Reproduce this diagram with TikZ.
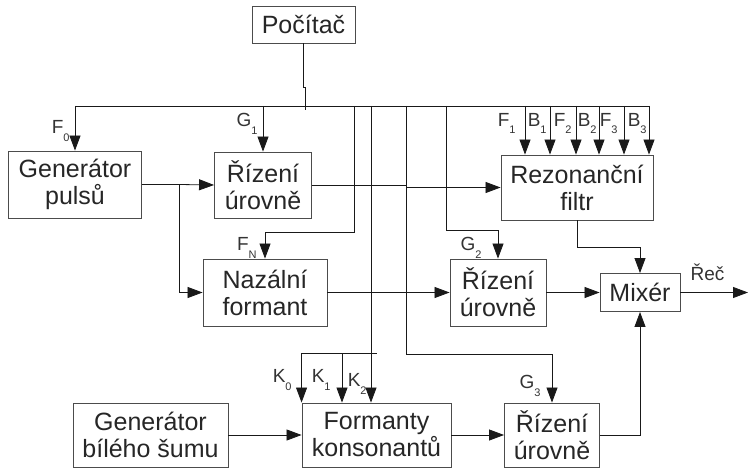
\documentclass[tikz,border=0pt]{standalone}
\usepackage{fontspec}
\setmainfont{Liberation Sans}
\usetikzlibrary{arrows.meta, calc}
\newcommand{\sig}[2]{#1\raisebox{-8pt}{\fontsize{11}{11}\selectfont #2}}

\begin{document}
\begin{tikzpicture}[
    x=1pt, y=-1pt,
    block/.style={draw=black!70, line width=0.9pt, text=black!85, font=\fontsize{25}{27}\selectfont, align=center, inner sep=0pt},
    ctl/.style={font=\fontsize{19}{19}\selectfont, text=black!80, inner sep=0pt, anchor=base east},
    arr/.style={-{Triangle[length=15pt, width=11pt]}},
    line width=0.8pt, draw=black!90
]
    \useasboundingbox (0,0) rectangle (749,468);

    % Blocks (manual layout)
    \node[block, minimum width=103pt, minimum height=37pt] (pc)   at (303.5,24.5) {Počítač};
    \node[block, minimum width=133pt, minimum height=67pt] (genp) at (75,184.5)   {Generátor\\pulsů};
    \node[block, minimum width=97pt,  minimum height=66pt] (riz1) at (263,185)    {Řízení\\úrovně};
    \node[block, minimum width=152pt, minimum height=65pt] (rez)  at (577,187.5)  {Rezonanční\\filtr};
    \node[block, minimum width=124pt, minimum height=67pt] (naz)  at (265,292.5)  {Nazální\\formant};
    \node[block, minimum width=96pt,  minimum height=67pt] (riz2) at (498,292.5)  {Řízení\\úrovně};
    \node[block, minimum width=80pt,  minimum height=38pt] (mix)  at (640,292.5)  {Mixér};
    \node[block, minimum width=155pt, minimum height=64pt] (gens) at (150.5,435)  {Generátor\\bílého šumu};
    \node[block, minimum width=149pt, minimum height=64pt] (form) at (376.5,435)  {Formanty\\konsonantů};
    \node[block, minimum width=95pt,  minimum height=64pt] (riz3) at (552,435)    {Řízení\\úrovně};

    % Control bus
    \coordinate (busL) at (75,106);
    \coordinate (busR) at (649,106);
    \coordinate (tapN) at (354,106);
    \coordinate (tapK) at (371,106);
    \coordinate (tapC) at (406,106);
    \coordinate (tapB) at (446,106);
    \coordinate (kbr)  at (371,353);
    \coordinate (kone) at (342,353);

    \draw (pc.south) -- ++(0,44) -- ++(2,0) -- ++(0,23);
    \draw (busL) -- (busR);
    \draw[arr] (busL) -- (genp.north);
    \draw[arr] (busL -| riz1.north) -- (riz1.north);
    \draw[arr] (tapN) -- ++(0,126) -| (naz.north);
    \draw[arr] (tapK) -- (tapK |- form.north);
    \draw (kbr) -- ++(6,0);
    \draw[arr] (kbr) -| (form.north west);
    \draw[arr] (kone) -- (kone |- form.north);
    \draw[arr] (tapC) -- ++(0,248) -| (riz3.north);
    \draw[arr] (tapB) -- ++(0,124) -| (riz2.north);

    % Filter parameters
    \foreach \x/\c/\s/\e in {525/F/1/516, 550/B/1/547, 576/F/2/572, 599/B/2/597, 624/F/3/618, 649/B/3/647} {
        \coordinate (in\x) at (\x,106);
        \draw[arr] (in\x) -- (in\x |- rez.north);
        \node[ctl] (lab\x) at (\e,126) {\sig{\c}{\s}};
    }

    % Control labels
    \node[ctl] (lF0) at (70,133)  {\sig{F}{0}};
    \node[ctl] (lG1) at (258,127) {\sig{G}{1}};
    \node[ctl] (lFN) at (257,250) {\sig{F}{N}};
    \node[ctl] (lK0) at (292,382) {\sig{K}{0}};
    \node[ctl] (lK1) at (331,382) {\sig{K}{1}};
    \node[ctl] (lK2) at (367,386) {\sig{K}{2}};
    \node[ctl] (lG2) at (482,250) {\sig{G}{2}};
    \node[ctl] (lG3) at (541,388) {\sig{G}{3}};

    % Signal path
    \coordinate (split) at (179,184.5);
    \coordinate (out) at (748,292.5);
    \draw (genp.east) -- (split);
    \draw[arr] (split) -- (riz1.west);
    \draw[arr] (split) |- (naz.west);
    \draw[arr] (riz1.east) -- (riz1.east -| tapC) |- (rez.west);
    \draw[arr] (naz.east) -- (riz2.west);
    \draw[arr] (riz2.east) -- (mix.west);
    \draw[arr] (rez.south) -- ++(0,27) -| (mix.north);
    \draw[arr] (gens.east) -- (form.west);
    \draw[arr] (form.east) -- (riz3.west);
    \draw[arr] (riz3.east) -| (mix.south);
    \draw[arr] (mix.east) -- node[ctl, anchor=base, pos=0.4, yshift=12pt] (lout) {Řeč} (out);
\end{tikzpicture}
\end{document}
